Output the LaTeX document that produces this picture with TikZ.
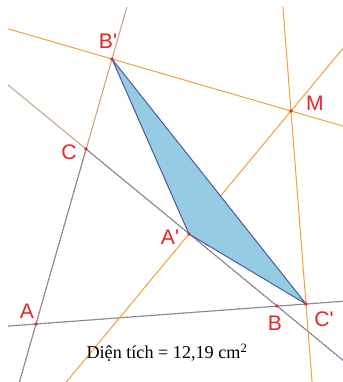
\documentclass[tikz,border=0pt]{standalone}
\usepackage{fontspec}
\setmainfont{Liberation Serif}
\newfontfamily\lblfont{Liberation Sans}[Ligatures=TeXOff]
\usetikzlibrary{calc}
\definecolor{Ray}{HTML}{EFA23C}
\definecolor{Tan}{HTML}{C4A47C}
\definecolor{Steel}{HTML}{6A78A8}
\definecolor{Fill}{HTML}{95CCE4}
\definecolor{Edge}{HTML}{4B58A0}
\definecolor{Mark}{HTML}{E3262B}
\tikzset{
  rayline/.style={draw=Ray,line width=0.85pt},
  tanline/.style={draw=Tan,line width=0.85pt},
  sideline/.style={draw=Steel,line width=0.85pt,dash pattern=on 1.4pt off 0.9pt},
  tri/.style={draw=Edge,fill=Fill,line width=0.85pt,line join=round},
  dot/.style={circle,fill=Mark,inner sep=0pt,minimum size=3.2pt},
  lbl/.style={text=Mark,font=\lblfont\fontsize{18}{18}\selectfont,inner sep=0pt}
}

\begin{document}
\begin{tikzpicture}[x=0.03cm,y=-0.03cm]
  \useasboundingbox[fill=white] (0,0) rectangle (343,382);
  \coordinate (A) at (36,324);
  \coordinate (B) at (277,306);
  \coordinate (C) at (86,149);
  \coordinate (Ap) at (189,234);
  \coordinate (Bp) at (112,59);
  \coordinate (Cp) at (306,304);
  \coordinate (M) at (291,111);
  \begin{scope}
    \clip (8,7) rectangle (343,382);
    \draw[tanline] ($(Bp)!-1!(A)$) -- ($(Bp)!2!(A)$);
    \draw[tanline] ($(C)!-1!(B)$) -- ($(C)!2!(B)$);
    \draw[tanline] ($(A)!-1!(Cp)$) -- ($(A)!2!(Cp)$);
    \draw[sideline] (C) -- ($(C)!2!(A)$);
    \draw[sideline] (C) -- ($(C)!2!(B)$);
    \draw[sideline] ($(A)!-1!(Cp)$) -- ($(A)!2!(Cp)$);
    \draw[rayline] ($(Bp)!-1!(M)$) -- ($(Bp)!2!(M)$);
    \draw[rayline] ($(Ap)!-2!(M)$) -- ($(Ap)!2!(M)$);
    \draw[rayline] ($(M)!-1!(Cp)$) -- ($(M)!2!(Cp)$);
  \end{scope}
  \filldraw[tri] (Ap) -- (Bp) -- (Cp) -- cycle;
  \foreach \p in {A,B,C,Ap,Bp,Cp,M}
    \node[dot] (d\p) at (\p) {};
  \node[lbl] (lA) at (27,311) {A};
  \node[lbl] (lB) at (275,323) {B};
  \node[lbl] (lC) at (69,152) {C};
  \node[lbl] (lAp) at (170,237) {A'};
  \node[lbl] (lBp) at (108,41) {B'};
  \node[lbl] (lCp) at (324,319) {C'};
  \node[lbl] (lM) at (315,103) {M};
  \node[font=\fontsize{15.5}{18}\selectfont,inner sep=0pt] (area) at (167,353)
    {Diện tích = 12,19 cm\textsuperscript{2}};
\end{tikzpicture}
\end{document}
